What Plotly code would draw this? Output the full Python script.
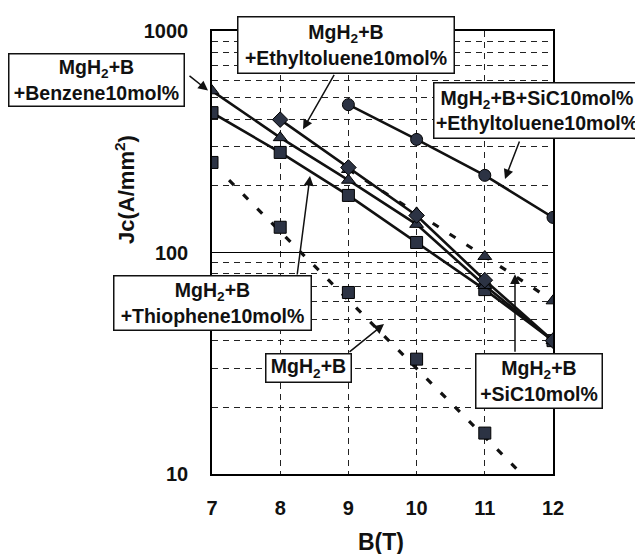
import plotly.graph_objects as go

# ---- data ----
x_ticks = [7, 8, 9, 10, 11, 12]
y_ticks = [10, 100, 1000]
y_tick_text = ["10", "100", "1000"]
y_minor = [20, 30, 40, 50, 60, 70, 80, 90, 200, 300, 400, 500, 600, 700, 800, 900]

b_mgb = [7, 8, 9, 10, 11]
jc_mgb = [255, 130, 66, 33, 15.3]
b_mgb_fit = [7.25, 11.5]
jc_mgb_fit = [212, 10.3]

b_benz = [7, 8, 9, 10, 11, 12]
jc_benz = [537, 330, 212, 134, 71, 40]

b_thio = [7, 8, 9, 10, 11, 12]
jc_thio = [428, 283, 181, 111, 68, 40]

b_ethyl = [8, 9, 10, 11, 12]
jc_ethyl = [398, 242, 147, 75, 40]

b_sic = [9, 10, 11, 12]
jc_sic = [237, 151, 96, 60.5]

b_sic_ethyl = [9, 10, 11, 12]
jc_sic_ethyl = [465, 324, 223, 144]

# ---- styling ----
FILL = "#2c3344"
LINE = "#111111"
FONT = "Liberation Sans, Arial, sans-serif"
DOT = "7px,13px"

# page offset of the figure inside the html body (default 8px margin)
OFF = 8
W, H = 643 - OFF, 554 - OFF
X0, X1, Y0, Y1 = 212, 553, 474, 28   # plot area in page pixels

fig = go.Figure()

def add(x, y, symbol, size, dash="solid", width=2.6, mode="lines+markers"):
    fig.add_trace(go.Scatter(
        x=x, y=y, mode=mode,
        line=dict(color=LINE, width=width, dash=dash),
        marker=dict(symbol=symbol, size=size, color=FILL,
                    line=dict(color="#000000", width=1)),
        showlegend=False, hoverinfo="skip"))

# MgH2+B : squares with dotted trend line
add(b_mgb_fit, jc_mgb_fit, "square", 1, dash=DOT, width=3.2, mode="lines")
add(b_mgb, jc_mgb, "square", 12, mode="markers")
# SiC : triangles with dashed line
add(b_sic, jc_sic, "triangle-up", 12, dash=DOT, width=3.2)
# Thiophene : squares
add(b_thio, jc_thio, "square", 12)
# Benzene : triangles
add(b_benz, jc_benz, "triangle-up", 12)
# Ethyltoluene : diamonds
add(b_ethyl, jc_ethyl, "diamond", 12)
# SiC + Ethyltoluene : circles
add(b_sic_ethyl, jc_sic_ethyl, "circle", 12)

fig.update_layout(
    width=W, height=H,
    margin=dict(l=X0 - OFF, r=W - (X1 - OFF), t=Y1 - OFF, b=H - (Y0 - OFF)),
    paper_bgcolor="white", plot_bgcolor="white",
    font=dict(family=FONT, color=LINE),
    xaxis=dict(
        range=[7, 12], tickvals=x_ticks, ticks="",
        showgrid=True, gridcolor="#222222", gridwidth=1, griddash="6px,5px",
        showline=True, linecolor="#000000", linewidth=1.5, mirror=True,
        zeroline=False, ticklabelstandoff=15,
        tickfont=dict(size=20, family=FONT, weight="bold", color=LINE)),
    yaxis=dict(
        type="log", range=[1, 3], tickvals=y_ticks, ticktext=y_tick_text, ticks="",
        showgrid=True, gridcolor="#000000", gridwidth=1.2,
        minor=dict(tickvals=y_minor, showgrid=True, gridcolor="#222222",
                   gridwidth=1, griddash="6px,5px", ticks=""),
        showline=True, linecolor="#000000", linewidth=1.5, mirror=True,
        zeroline=False, ticklabelstandoff=18,
        tickfont=dict(size=20, family=FONT, weight="bold", color=LINE)),
)

def px(xp):
    return (xp - X0) / (X1 - X0)
def py(yp):
    return (Y0 - yp) / (Y0 - Y1)

# ---- axis titles ----
fig.add_annotation(text="B(T)", xref="paper", yref="paper", x=px(381), y=py(542),
                   xanchor="center", yanchor="middle", showarrow=False,
                   font=dict(size=23, family=FONT, weight="bold", color=LINE))
fig.add_annotation(text="Jc(A/mm<sup>2</sup>)", xref="paper", yref="paper",
                   x=px(125), y=py(188), textangle=-90, showarrow=False,
                   xanchor="center", yanchor="middle",
                   font=dict(size=22, family=FONT, weight="bold", color=LINE))

# ---- arrows ----
arrows = [
    ((188, 72), (208, 88)),
    ((335, 71), (303, 127)),
    ((520, 138), (505, 177)),
    ((297, 274), (310, 174)),
    ((348, 352), (384, 323)),
    ((515, 352), (515, 273)),
]
for (tx, ty), (hx, hy) in arrows:
    fig.add_annotation(text="", xref="paper", yref="paper", x=px(hx), y=py(hy),
                       ax=tx - hx, ay=ty - hy, showarrow=True,
                       arrowhead=2, arrowsize=1.3, arrowwidth=1.5, arrowcolor=LINE)

# ---- labels ----
labels = [
    ("MgH<sub>2</sub>+B<br>+Benzene10mol%", (8, 50, 185, 104)),
    ("MgH<sub>2</sub>+B<br>+Ethyltoluene10mol%", (237, 13, 455, 71)),
    ("MgH<sub>2</sub>+B+SiC10mol%<br>+Ethyltoluene10mol%", (433, 80, 641, 137)),
    ("MgH<sub>2</sub>+B<br>+Thiophene10mol%", (113, 274, 312, 330)),
    ("MgH<sub>2</sub>+B", (265, 352, 352, 382)),
    ("MgH<sub>2</sub>+B<br>+SiC10mol%", (475, 352, 603, 408)),
]
for txt, (l, t, r, b) in labels:
    fig.add_annotation(text=txt, xref="paper", yref="paper",
                       x=px((l + r) / 2), y=py((t + b) / 2),
                       xanchor="center", yanchor="middle", showarrow=False,
                       width=r - l - 3, height=b - t - 3, align="center",
                       bgcolor="white", bordercolor="#111111", borderwidth=1.5, borderpad=0,
                       font=dict(size=19.5, family=FONT, weight="bold", color=LINE))

fig.write_html("out.html")
